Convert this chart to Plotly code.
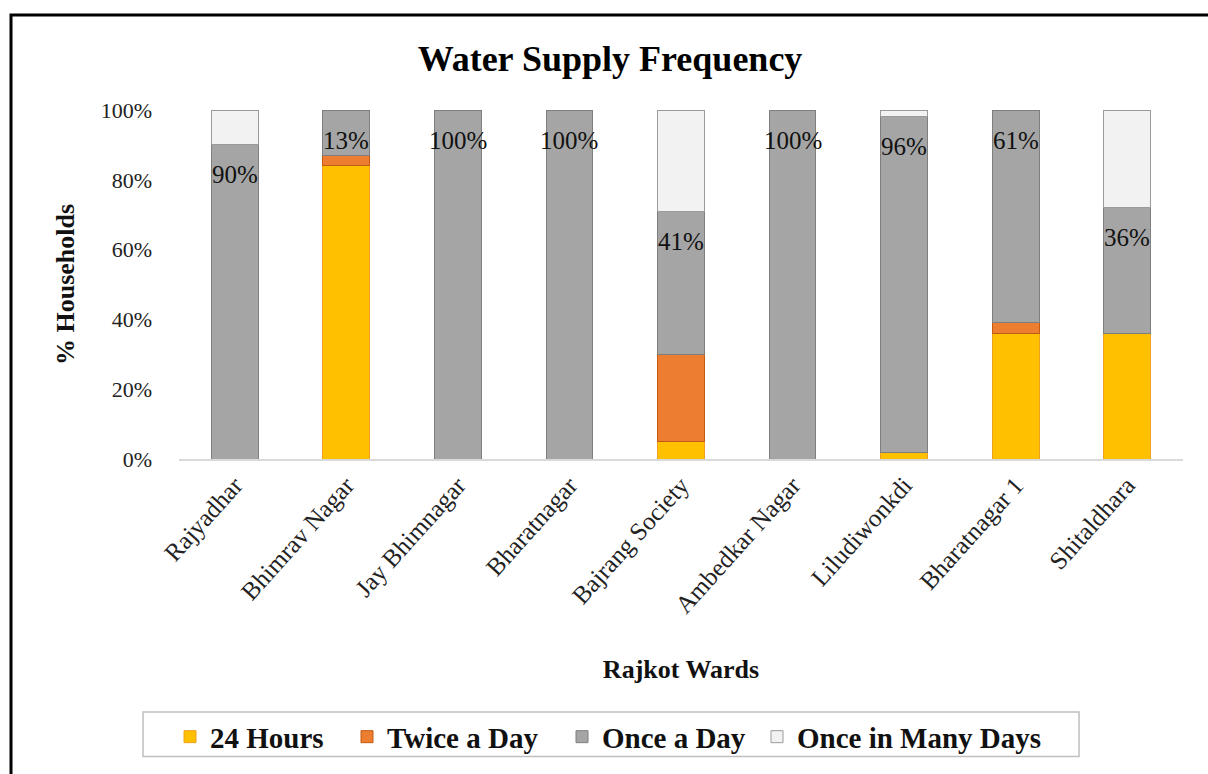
import plotly.graph_objects as go

wards = ["Rajyadhar", "Bhimrav Nagar", "Jay Bhimnagar", "Bharatnagar", "Bajrang Society",
         "Ambedkar Nagar", "Liludiwonkdi", "Bharatnagar 1", "Shitaldhara"]
hours_24 = [0, 84, 0, 0, 5, 0, 2, 36, 36]
twice_a_day = [0, 3, 0, 0, 25, 0, 0, 3, 0]
once_a_day = [90, 13, 100, 100, 41, 100, 96, 61, 36]
once_in_many_days = [10, 0, 0, 0, 29, 0, 2, 0, 28]

series = [
    ("24 Hours", hours_24, "#FFC000", "#F0A020"),
    ("Twice a Day", twice_a_day, "#ED7D31", "#C55A11"),
    ("Once a Day", once_a_day, "#A5A5A5", "#7F7F7F"),
    ("Once in Many Days", once_in_many_days, "#F2F2F2", "#9A9A9A"),
]

FONT = "Liberation Serif"

L, R, T, B = 179, 25, 110, 311
W, H = 1208, 774
pw, ph = W - L - R, H - T - B


def px_x(x):
    return (x - L) / pw


def px_y(y):
    return (H - B - y) / ph


# left edge (px) of each legend entry inside the shared legend box
legend_left = [170, 347, 562, 757]
legend_ids = ["legend", "legend2", "legend3", "legend4"]

fig = go.Figure()
for (name, vals, fill, edge), lid in zip(series, legend_ids):
    fig.add_trace(go.Bar(
        name=f"<b>{name}</b>",
        x=wards,
        y=[v / 100 if v else None for v in vals],
        marker=dict(color=fill, line=dict(color=edge, width=1)),
        hoverinfo="skip",
        legend=lid,
    ))

# value labels just inside the top of each "Once a Day" segment
for i, w in enumerate(wards):
    top = (hours_24[i] + twice_a_day[i] + once_a_day[i]) / 100
    fig.add_annotation(
        x=w, y=top, yshift=-30, text=f"{once_a_day[i]}%", showarrow=False,
        font=dict(family=FONT, size=25, color="#111111"),
    )

# outer frame
fig.add_shape(type="rect", xref="paper", yref="paper",
              x0=px_x(11), x1=px_x(1220), y0=px_y(14), y1=px_y(790),
              line=dict(color="#000000", width=3), layer="below")
# legend box
fig.add_shape(type="rect", xref="paper", yref="paper",
              x0=px_x(143), x1=px_x(1079), y0=px_y(719), y1=px_y(764),
              line=dict(color="#BFBFBF", width=1.5), layer="below")

legend_style = dict(orientation="h", xanchor="left", y=px_y(744), yanchor="middle",
                    font=dict(family=FONT, size=29, color="#111111"),
                    itemwidth=30, bgcolor="rgba(0,0,0,0)")
legends = {lid: dict(x=px_x(xl), **legend_style) for lid, xl in zip(legend_ids, legend_left)}

fig.update_layout(
    width=W, height=H,
    margin=dict(l=L, r=R, t=T, b=B),
    barmode="stack",
    bargap=0.58,
    plot_bgcolor="white",
    paper_bgcolor="white",
    font=dict(family=FONT, color="#222222"),
    title=dict(text="<b>Water Supply Frequency</b>", x=610 / W, xanchor="center",
               y=1 - 58 / H, yanchor="middle",
               font=dict(family=FONT, size=36, color="#000000")),
    showlegend=True,
    xaxis=dict(
        tickangle=-48, tickfont=dict(family=FONT, size=25, color="#222222"),
        showline=True, linecolor="#D9D9D9", linewidth=1.5,
        showgrid=False, ticks="",
        title=dict(text="<b>Rajkot Wards</b>", font=dict(family=FONT, size=26, color="#111111"),
                   standoff=42),
    ),
    yaxis=dict(
        range=[0, 1], tickvals=[0, 0.2, 0.4, 0.6, 0.8, 1.0],
        ticktext=["0%", "20%", "40%", "60%", "80%", "100%"],
        tickfont=dict(family=FONT, size=22, color="#222222"),
        showgrid=False, zeroline=False, showline=False, ticks="",
        ticklabelstandoff=26,
        title=dict(text="<b>% Households</b>", font=dict(family=FONT, size=26, color="#111111"),
                   standoff=18),
    ),
    **legends,
)

fig.write_html("out.html")
